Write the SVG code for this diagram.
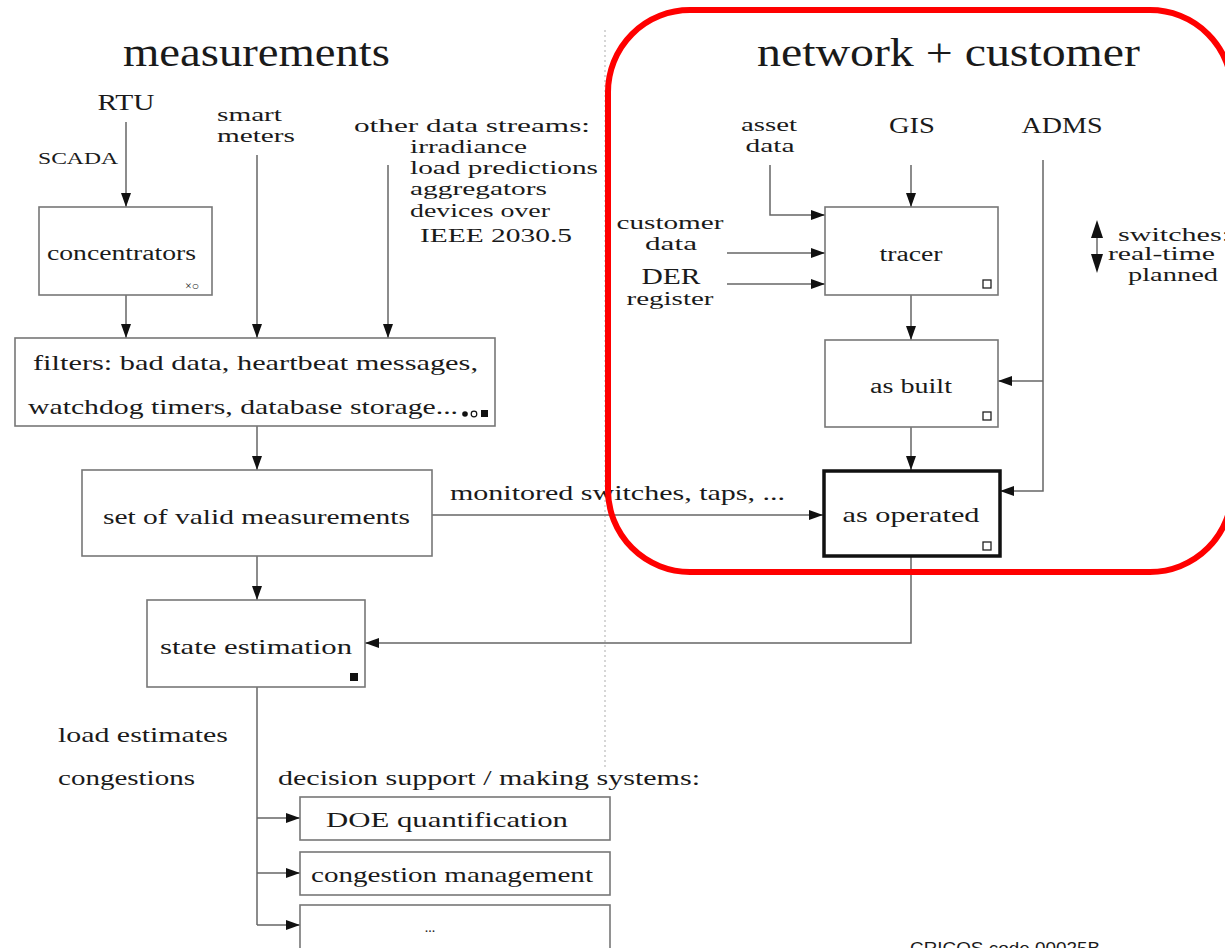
<svg xmlns="http://www.w3.org/2000/svg" width="1225" height="948" viewBox="0 0 1225 948">
<style>
text{font-family:"Liberation Serif","DejaVu Serif",serif;fill:#1a1a1a;}
.t{font-size:22px;}
.s{font-size:19px;}
.m{text-anchor:middle;}
.box{fill:#fff;stroke:#777;stroke-width:1.6;}
.ln{fill:none;stroke:#666;stroke-width:1.5;}
.ind{fill:#fff;stroke:#222;stroke-width:1.3;}
</style>
<defs>
<marker id="ah" viewBox="0 0 14 10" refX="14" refY="5" markerWidth="14" markerHeight="10" markerUnits="userSpaceOnUse" orient="auto">
<path d="M0,0 L14,5 L0,10 z" fill="#111"/>
</marker>
</defs>
<rect width="1225" height="948" fill="#fff"/>

<!-- divider -->
<line x1="605" y1="30" x2="605" y2="770" stroke="#bbb" stroke-width="1.2" stroke-dasharray="2,3"/>

<!-- titles -->
<text x="123" y="66" style="font-size:40px" textLength="267" lengthAdjust="spacingAndGlyphs">measurements</text>
<text x="757" y="66" style="font-size:40px" textLength="383" lengthAdjust="spacingAndGlyphs">network + customer</text>

<!-- connectors -->
<g id="connectors">
<line class="ln" x1="126" y1="122" x2="126" y2="207" marker-end="url(#ah)"/>
<line class="ln" x1="126" y1="295" x2="126" y2="338" marker-end="url(#ah)"/>
<line class="ln" x1="257" y1="155" x2="257" y2="338" marker-end="url(#ah)"/>
<line class="ln" x1="388" y1="165" x2="388" y2="338" marker-end="url(#ah)"/>
<line class="ln" x1="257" y1="426" x2="257" y2="470" marker-end="url(#ah)"/>
<line class="ln" x1="432" y1="515" x2="823" y2="515" marker-end="url(#ah)"/>
<line class="ln" x1="257" y1="556" x2="257" y2="600" marker-end="url(#ah)"/>
<polyline class="ln" points="911,557 911,643 365,643" marker-end="url(#ah)"/>
<polyline class="ln" points="257,687 257,925"/>
<line class="ln" x1="257" y1="818" x2="300" y2="818" marker-end="url(#ah)"/>
<line class="ln" x1="257" y1="873" x2="300" y2="873" marker-end="url(#ah)"/>
<line class="ln" x1="257" y1="925" x2="300" y2="925" marker-end="url(#ah)"/>
<polyline class="ln" points="770,165 770,215 825,215" marker-end="url(#ah)"/>
<line class="ln" x1="911" y1="165" x2="911" y2="207" marker-end="url(#ah)"/>
<line class="ln" x1="727" y1="253" x2="825" y2="253" marker-end="url(#ah)"/>
<line class="ln" x1="727" y1="284" x2="825" y2="284" marker-end="url(#ah)"/>
<line class="ln" x1="911" y1="295" x2="911" y2="340" marker-end="url(#ah)"/>
<line class="ln" x1="911" y1="427" x2="911" y2="470" marker-end="url(#ah)"/>
<polyline class="ln" points="1043,160 1043,491 1000,491" marker-end="url(#ah)"/>
<line class="ln" x1="1043" y1="381" x2="998" y2="381" marker-end="url(#ah)"/>
</g>

<!-- sources -->
<g id="rtu"><text class="m" x="126" y="110" style="font-size:24px" textLength="57" lengthAdjust="spacingAndGlyphs">RTU</text></g>
<g id="scada"><text x="38" y="164" style="font-size:17px" textLength="80" lengthAdjust="spacingAndGlyphs">SCADA</text></g>
<g id="smart-meters">
<text class="s" x="217" y="121" textLength="65" lengthAdjust="spacingAndGlyphs">smart</text>
<text class="s" x="217" y="142" textLength="78" lengthAdjust="spacingAndGlyphs">meters</text>
</g>
<g id="other-streams">
<text class="s" x="354" y="132" textLength="236" lengthAdjust="spacingAndGlyphs">other data streams:</text>
<text class="s" x="410" y="153" textLength="117" lengthAdjust="spacingAndGlyphs">irradiance</text>
<text class="s" x="410" y="174" textLength="188" lengthAdjust="spacingAndGlyphs">load predictions</text>
<text class="s" x="410" y="195" textLength="137" lengthAdjust="spacingAndGlyphs">aggregators</text>
<text class="s" x="410" y="217" textLength="140" lengthAdjust="spacingAndGlyphs">devices over</text>
<text class="s" x="420" y="242" textLength="152" lengthAdjust="spacingAndGlyphs">IEEE 2030.5</text>
</g>

<g id="concentrators">
<rect class="box" x="39" y="207" width="173" height="88"/>
<text x="47" y="260" style="font-size:20px" textLength="149" lengthAdjust="spacingAndGlyphs">concentrators</text>
<text x="185" y="290" style="font-size:12px">×○</text>
</g>

<g id="filters">
<rect class="box" x="15" y="338" width="480" height="88"/>
<text class="t" x="33" y="370" textLength="445" lengthAdjust="spacingAndGlyphs">filters: bad data, heartbeat messages,</text>
<text class="t" x="28" y="414" textLength="430" lengthAdjust="spacingAndGlyphs">watchdog timers, database storage...</text>
<circle cx="465" cy="414" r="2.8" fill="#111"/>
<circle cx="474" cy="414" r="2.8" fill="none" stroke="#111" stroke-width="1.2"/>
<rect x="481" y="410" width="7" height="7" fill="#111"/>
</g>

<g id="valid-measurements">
<rect class="box" x="82" y="470" width="350" height="86"/>
<text class="t" x="103" y="524" textLength="307" lengthAdjust="spacingAndGlyphs">set of valid measurements</text>
</g>
<g id="monitored-label"><text class="t" x="450" y="500" textLength="335" lengthAdjust="spacingAndGlyphs">monitored switches, taps, ...</text></g>

<g id="state-estimation">
<rect class="box" x="147" y="600" width="218" height="87"/>
<text class="t" x="160" y="654" textLength="192" lengthAdjust="spacingAndGlyphs">state estimation</text>
<rect x="350" y="673" width="8" height="8" fill="#111"/>
</g>

<g id="outputs">
<text class="t" x="58" y="742" textLength="170" lengthAdjust="spacingAndGlyphs">load estimates</text>
<text class="t" x="58" y="785" textLength="137" lengthAdjust="spacingAndGlyphs">congestions</text>
<text class="t" x="278" y="785" textLength="422" lengthAdjust="spacingAndGlyphs">decision support / making systems:</text>
</g>

<g id="doe">
<rect class="box" x="300" y="797" width="310" height="43"/>
<text class="t" x="326" y="827" textLength="242" lengthAdjust="spacingAndGlyphs">DOE quantification</text>
</g>
<g id="congestion-management">
<rect class="box" x="300" y="852" width="310" height="43"/>
<text class="t" x="311" y="882" textLength="282" lengthAdjust="spacingAndGlyphs">congestion management</text>
</g>
<g id="more">
<rect class="box" x="300" y="905" width="310" height="50"/>
<text class="m" x="430" y="932" style="font-size:14px">...</text>
</g>

<!-- right side -->
<g id="asset-data">
<text class="s m" x="769" y="131" textLength="56" lengthAdjust="spacingAndGlyphs">asset</text>
<text class="s m" x="770" y="152" textLength="49" lengthAdjust="spacingAndGlyphs">data</text>
</g>
<g id="gis"><text class="m" x="912" y="133" style="font-size:24px" textLength="46" lengthAdjust="spacingAndGlyphs">GIS</text></g>
<g id="adms"><text class="m" x="1062" y="133" style="font-size:24px" textLength="81" lengthAdjust="spacingAndGlyphs">ADMS</text></g>
<g id="customer-data">
<text class="s m" x="670" y="229" textLength="107" lengthAdjust="spacingAndGlyphs">customer</text>
<text class="s m" x="671" y="250" textLength="52" lengthAdjust="spacingAndGlyphs">data</text>
</g>
<g id="der-register">
<text class="m" x="671" y="284" style="font-size:23px" textLength="59" lengthAdjust="spacingAndGlyphs">DER</text>
<text class="s m" x="670" y="305" textLength="87" lengthAdjust="spacingAndGlyphs">register</text>
</g>

<g id="tracer">
<rect class="box" x="825" y="207" width="173" height="88"/>
<text class="m" x="911" y="261" style="font-size:20px" textLength="63" lengthAdjust="spacingAndGlyphs">tracer</text>
<rect class="ind" x="983" y="280" width="8" height="8"/>
</g>
<g id="as-built">
<rect class="box" x="825" y="340" width="173" height="87"/>
<text class="m" x="911" y="393" style="font-size:20px" textLength="82" lengthAdjust="spacingAndGlyphs">as built</text>
<rect class="ind" x="983" y="412" width="8" height="8"/>
</g>
<g id="as-operated">
<rect x="824" y="471" width="176" height="85" fill="#fff" stroke="#111" stroke-width="3.5"/>
<text class="t m" x="911" y="522" textLength="137" lengthAdjust="spacingAndGlyphs">as operated</text>
<rect class="ind" x="983" y="542" width="8" height="8"/>
</g>

<g id="switches-legend">
<line x1="1097" y1="225" x2="1097" y2="270" stroke="#444" stroke-width="1.2"/>
<path d="M1091,238 L1097,220 L1103,238 z" fill="#111"/>
<path d="M1091,254 L1097,273 L1103,254 z" fill="#111"/>
<text class="s" x="1118" y="241" textLength="112" lengthAdjust="spacingAndGlyphs">switches:</text>
<text class="s" x="1108" y="260" textLength="107" lengthAdjust="spacingAndGlyphs">real-time</text>
<text class="s" x="1128" y="281" textLength="90" lengthAdjust="spacingAndGlyphs">planned</text>
</g>

<!-- red highlight -->
<rect x="608" y="10" width="624" height="562" rx="82" ry="82" fill="none" stroke="#ff0000" stroke-width="6"/>

<text x="910" y="954" style="font-family:'Liberation Sans',Arial,sans-serif;font-size:17px" fill="#111" textLength="190" lengthAdjust="spacingAndGlyphs">CRICOS code 00025B</text>
</svg>
